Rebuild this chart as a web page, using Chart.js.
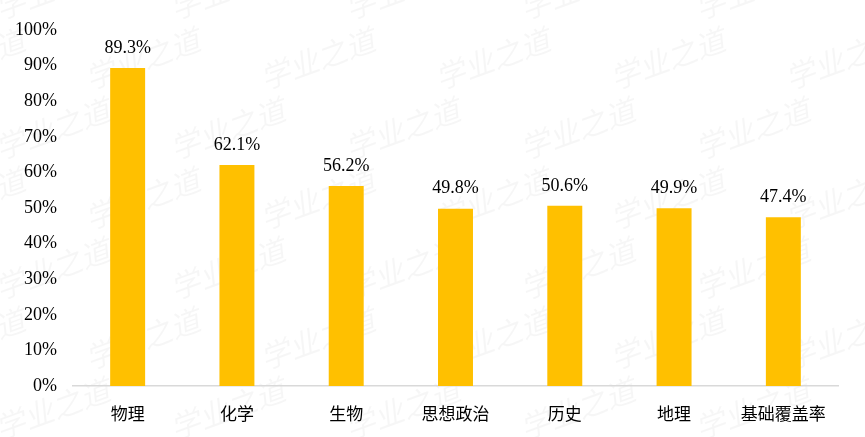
<!DOCTYPE html>
<html>
<head>
<meta charset="utf-8">
<script src="https://cdn.jsdelivr.net/npm/chart.js@4/dist/chart.umd.min.js"></script>
<style>
  html, body { margin: 0; padding: 0; background: #fff; }
  #wrap { width: 865px; height: 437px; position: relative; }
</style>
</head>
<body>
<div id="wrap"><canvas id="bar_chart"></canvas></div>
<script>
// subjects and pass rates (%)
var subjects = ["物理", "化学", "生物", "思想政治", "历史", "地理", "基础覆盖率"];
var rates = [89.3, 62.1, 56.2, 49.8, 50.6, 49.9, 47.4];
var yTicks = [0, 10, 20, 30, 40, 50, 60, 70, 80, 90, 100];
var watermark = "学业之道";

var serif = "'Liberation Serif', 'Times New Roman', serif";
var cjk = "'Noto Sans CJK SC', sans-serif";

// faint background watermark, drawn before everything else
var watermarkPlugin = {
    id: "watermark",
    beforeDraw: function (chart) {
        var ctx = chart.ctx;
        ctx.save();
        ctx.fillStyle = "rgba(0,0,0,0.035)";
        ctx.font = "italic 30px " + cjk;
        for (var row = -1; row < 7; row++) {
            for (var col = -1; col < 6; col++) {
                var x = col * 175 + (row % 2) * 90;
                var y = row * 70 + 20;
                ctx.save();
                ctx.translate(x, y);
                ctx.rotate(-0.35);
                ctx.fillText(watermark, 0, 0);
                ctx.restore();
            }
        }
        ctx.restore();
    },
};

// value labels above each bar
var valueLabels = {
    id: "valueLabels",
    afterDatasetsDraw: function (chart) {
        var ctx = chart.ctx;
        var meta = chart.getDatasetMeta(0);
        ctx.save();
        ctx.fillStyle = "#000";
        ctx.font = "18px " + serif;
        ctx.textAlign = "center";
        ctx.textBaseline = "middle";
        meta.data.forEach(function (bar, i) {
            ctx.fillText(rates[i].toFixed(1) + "%", bar.x, bar.y - 20);
        });
        ctx.restore();
    },
};

new Chart("bar_chart", {
    type: "bar",
    data: {
        labels: subjects,
        datasets: [
            {
                data: rates,
                backgroundColor: "#FFC000",
                barPercentage: 0.32,
                categoryPercentage: 1,
            },
        ],
    },
    options: {
        responsive: true,
        maintainAspectRatio: false,
        animation: false,
        layout: {
            padding: { top: 30, right: 27, left: 0, bottom: 0 },
        },
        plugins: {
            legend: { display: false },
            tooltip: { enabled: false },
        },
        scales: {
            x: {
                grid: { display: false },
                border: { display: true, color: "#d9d9d9", width: 1.5 },
                ticks: {
                    color: "#000",
                    font: { family: cjk, size: 17 },
                    padding: 9,
                },
                afterFit: function (scale) {
                    scale.height = 51;
                },
            },
            y: {
                min: 0,
                max: 100,
                grid: { display: false },
                border: { display: false },
                afterBuildTicks: function (scale) {
                    scale.ticks = yTicks.map(function (v) {
                        return { value: v };
                    });
                },
                ticks: {
                    color: "#000",
                    font: { family: serif, size: 18 },
                    padding: 8,
                    callback: function (v) {
                        return v + "%";
                    },
                },
                afterFit: function (scale) {
                    scale.width = 73;
                },
            },
        },
    },
    plugins: [watermarkPlugin, valueLabels],
});
</script>
</body>
</html>
